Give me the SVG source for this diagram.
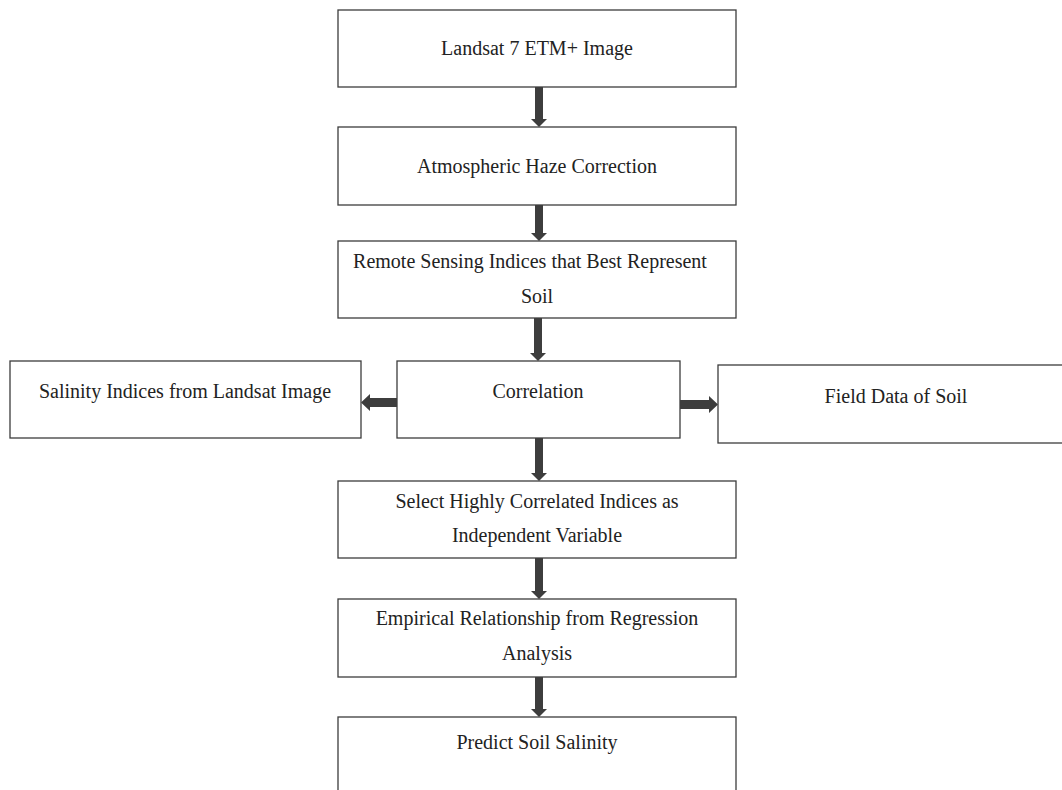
<svg xmlns="http://www.w3.org/2000/svg" width="1062" height="790" viewBox="0 0 1062 790">
  <defs>
    <style>
      .box { fill: #ffffff; stroke: #3c3c3c; stroke-width: 1.3; }
      .lbl { font-family: "Liberation Serif", "Times New Roman", serif; font-size: 20px; fill: #222222; text-anchor: middle; }
      .arrow { fill: #3d3d3d; }
    </style>
  </defs>
  <rect width="1062" height="790" fill="#ffffff"/>

  <g id="n-landsat">
    <rect class="box" x="338" y="10" width="398" height="77"/>
    <text class="lbl" x="537" y="55">Landsat 7 ETM+ Image</text>
  </g>
  <g id="n-haze">
    <rect class="box" x="338" y="127" width="398" height="78"/>
    <text class="lbl" x="537" y="173">Atmospheric Haze Correction</text>
  </g>
  <g id="n-indices">
    <rect class="box" x="338" y="241" width="398" height="77"/>
    <text class="lbl" x="530" y="268">Remote Sensing Indices that Best Represent</text>
    <text class="lbl" x="537" y="303">Soil</text>
  </g>
  <g id="n-salinity">
    <rect class="box" x="10" y="361" width="351" height="77"/>
    <text class="lbl" x="185" y="398">Salinity Indices from Landsat Image</text>
  </g>
  <g id="n-correlation">
    <rect class="box" x="397" y="361" width="283" height="77"/>
    <text class="lbl" x="538" y="398">Correlation</text>
  </g>
  <g id="n-field">
    <rect class="box" x="718" y="365" width="360" height="78"/>
    <text class="lbl" x="896" y="403">Field Data of Soil</text>
  </g>
  <g id="n-select">
    <rect class="box" x="338" y="481" width="398" height="77"/>
    <text class="lbl" x="537" y="508">Select Highly Correlated Indices as</text>
    <text class="lbl" x="537" y="542">Independent Variable</text>
  </g>
  <g id="n-empirical">
    <rect class="box" x="338" y="599" width="398" height="78"/>
    <text class="lbl" x="537" y="625">Empirical Relationship from Regression</text>
    <text class="lbl" x="537" y="660">Analysis</text>
  </g>
  <g id="n-predict">
    <rect class="box" x="338" y="717" width="398" height="90"/>
    <text class="lbl" x="537" y="749">Predict Soil Salinity</text>
  </g>

  <g id="connectors">
    <!-- vertical block arrows: shaft 8px wide, head 16px wide -->
    <path class="arrow" d="M535 87 H543 V119 H547 L539 127 L531 119 H535 Z"/>
    <path class="arrow" d="M535 205 H543 V233 H547 L539 241 L531 233 H535 Z"/>
    <path class="arrow" d="M534 318 H542 V353 H546 L538 361 L530 353 H534 Z"/>
    <path class="arrow" d="M535 438 H543 V473 H547 L539 481 L531 473 H535 Z"/>
    <path class="arrow" d="M535 558 H543 V591 H547 L539 599 L531 591 H535 Z"/>
    <path class="arrow" d="M535 677 H543 V709 H547 L539 717 L531 709 H535 Z"/>
    <!-- horizontal block arrows from Correlation -->
    <path class="arrow" d="M397 398 V407 H370 V411 L361 402.5 L370 394 V398 Z"/>
    <path class="arrow" d="M680 400 V409 H709 V413 L718 404.5 L709 396 V400 Z"/>
  </g>
</svg>
